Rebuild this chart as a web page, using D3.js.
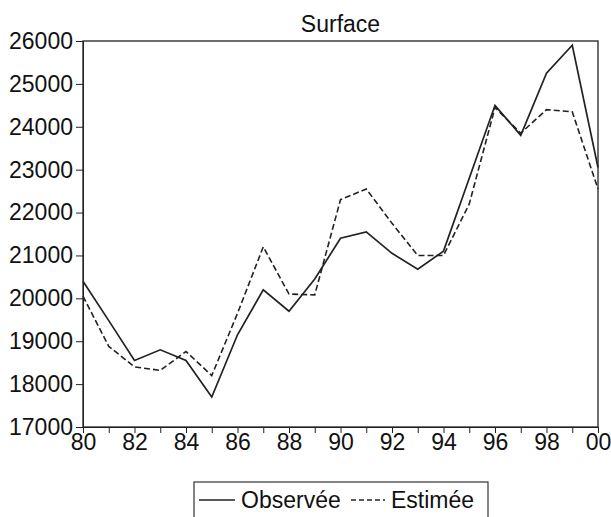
<!DOCTYPE html>
<html>
<head>
<meta charset="utf-8">
<script src="https://cdn.jsdelivr.net/npm/d3@7"></script>
<style>
  body { margin: 0; background: #fff; }
  svg { font-family: "Liberation Sans", Arial, sans-serif; }
</style>
</head>
<body>
<div id="chart-area"></div>
<script>
// data
const years = d3.range(1980, 2001);
const observee = [20400, 19480, 18550, 18800, 18550, 17700, 19150, 20200, 19700, 20450,
  21400, 21550, 21050, 20680, 21100, 22800, 24500, 23800, 25250, 25900, 23050];
const estimee = [20050, 18880, 18400, 18320, 18760, 18200, 19650, 21200, 20100, 20080,
  22300, 22550, 21750, 21000, 21000, 22200, 24450, 23850, 24400, 24350, 22550];
const yTicks = [17000, 18000, 19000, 20000, 21000, 22000, 23000, 24000, 25000, 26000];

const margin = { top: 41, right: 13, left: 83, bottom: 90 };
const W = 611, H = 517;
const width = W - margin.left - margin.right;
const height = H - margin.top - margin.bottom;

const svg = d3.select('#chart-area').append('svg')
  .attr('width', W)
  .attr('height', H);

const g = svg.append('g')
  .attr('transform', `translate(${margin.left}, ${margin.top})`);

const x = d3.scaleLinear().domain([1980, 2000]).range([0, width]);
const y = d3.scaleLinear().domain([17000, 26000]).range([height, 0]);

// title
g.append('text')
  .attr('x', width / 2)
  .attr('y', -9)
  .attr('text-anchor', 'middle')
  .attr('font-size', '23px')
  .attr('fill', '#111')
  .text('Surface');

// y axis
const yAxis = g.append('g')
  .call(d3.axisLeft(y).tickValues(yTicks).tickFormat(d => d).tickSize(7).tickSizeOuter(0));
yAxis.selectAll('text').attr('font-size', '23px').attr('fill', '#111').attr('x', -10);

// x axis: a tick every year, label every other year
const xAxis = g.append('g')
  .attr('transform', `translate(0, ${height})`)
  .call(d3.axisBottom(x).tickValues(years).tickFormat(d => d % 2 === 0 ? d3.format('02')(d % 100) : '')
    .tickSize(6).tickSizeOuter(0));
xAxis.selectAll('text').attr('font-size', '23px').attr('fill', '#111').attr('y', 7);

svg.selectAll('.domain').attr('stroke', '#222');
svg.selectAll('.tick line').attr('stroke', '#222');

// frame
g.append('rect')
  .attr('width', width)
  .attr('height', height)
  .attr('fill', 'none')
  .attr('stroke', '#222')
  .attr('stroke-width', 1.3);

const line = d3.line()
  .x((d, i) => x(years[i]))
  .y(d => y(d));

g.append('path')
  .datum(observee)
  .attr('d', line)
  .attr('fill', 'none')
  .attr('stroke', '#222')
  .attr('stroke-width', 1.7);

g.append('path')
  .datum(estimee)
  .attr('d', line)
  .attr('fill', 'none')
  .attr('stroke', '#222')
  .attr('stroke-width', 1.6)
  .attr('stroke-dasharray', '6,3');

// legend
const leg = svg.append('g').attr('transform', 'translate(194, 482)');
leg.append('rect')
  .attr('width', 294)
  .attr('height', 40)
  .attr('fill', '#fff')
  .attr('stroke', '#333')
  .attr('stroke-width', 1.2);
leg.append('line')
  .attr('x1', 5).attr('x2', 41).attr('y1', 18).attr('y2', 18)
  .attr('stroke', '#222').attr('stroke-width', 1.5);
leg.append('text')
  .attr('x', 47).attr('y', 26)
  .attr('font-size', '23px').attr('fill', '#111')
  .text('Observée');
leg.append('line')
  .attr('x1', 157).attr('x2', 191).attr('y1', 18).attr('y2', 18)
  .attr('stroke', '#222').attr('stroke-width', 1.5)
  .attr('stroke-dasharray', '5,3');
leg.append('text')
  .attr('x', 197).attr('y', 26)
  .attr('font-size', '23px').attr('fill', '#111')
  .text('Estimée');
</script>
</body>
</html>
